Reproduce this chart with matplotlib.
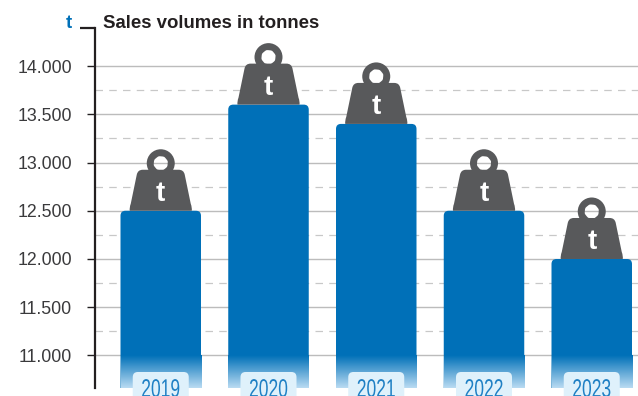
import numpy as np
import matplotlib
matplotlib.use('Agg')
import matplotlib.pyplot as plt
from matplotlib.path import Path
from matplotlib.patches import PathPatch, FancyBboxPatch
from matplotlib.patheffects import AbstractPathEffect
from matplotlib.transforms import Affine2D
from matplotlib.colors import LinearSegmentedColormap

years = ['2019', '2020', '2021', '2022', '2023']
sales = [12500, 13600, 13400, 12500, 12000]
major = [11000, 11500, 12000, 12500, 13000, 13500, 14000]
minor = [11250, 11750, 12250, 12750, 13250, 13750]
major_labels = ['11.000', '11.500', '12.000', '12.500', '13.000', '13.500', '14.000']

blue = '#0070b8'
grey = '#58595b'
ink = '#231f20'
W, H = 638, 396

plt.rcParams['font.family'] = ['Liberation Sans', 'DejaVu Sans']


class Narrow(AbstractPathEffect):
    # squeeze glyphs sideways around a fixed pixel column, no condensed font here
    def __init__(self, cx, factor):
        super().__init__()
        self.squeeze = Affine2D().translate(-cx, 0).scale(factor, 1).translate(cx, 0)

    def draw_path(self, renderer, gc, tpath, affine, rgbFace=None):
        renderer.draw_path(gc, tpath, affine + self.squeeze, rgbFace)


fig = plt.figure(figsize=(W / 100, H / 100), dpi=100)
# axes box in pixels: left 95, right 638, top 28, bottom 388
ax = fig.add_axes([95 / W, (H - 388) / H, (638 - 95) / W, (388 - 28) / H])
y_per_px = 500 / 48.2
x_per_px = 1 / 107.75
xlim = ((95 - 160.75) * x_per_px, (638 - 160.75) * x_per_px)
ylim = (11000 - (388 - 355.5) * y_per_px, 14000 + (66 - 28) * y_per_px)
ybottom = ylim[0]

for s in ['top', 'right', 'bottom']:
    ax.spines[s].set_visible(False)
ax.spines['left'].set_linewidth(1.6)
ax.spines['left'].set_color(ink)
ax.set_xticks([])
ax.set_yticks(major)
ax.set_yticklabels(major_labels, fontsize=12.8, color='#3a3a3c')
ax.tick_params(axis='y', length=6, width=1, color=ink, pad=10.5)

ax.hlines(major, *xlim, color='#bcbcbc', lw=1, zorder=1)
ax.hlines(minor, *xlim, color='#c8c8c8', lw=0.9, linestyles=(0, (6, 5)), zorder=1)

# cap at the top of the axis line
ax.plot([-15 / 543, 0], [1, 1], transform=ax.transAxes, color=ink, lw=1.6,
        clip_on=False, solid_capstyle='butt', zorder=5)
fig.text(72 / W, 1 - 23 / H, 't', color=blue, fontsize=13.4, fontweight='bold',
         ha='right', va='center')
fig.text(103 / W, 1 - 23 / H, 'Sales volumes in tonnes', color=ink, fontsize=13.4,
         fontweight='bold', ha='left', va='center')

half = 40.25 * x_per_px
rx = 5 * x_per_px
ry = 5 * y_per_px
fade = LinearSegmentedColormap.from_list('fade', [blue, '#b9dbf2'])
grad = np.linspace(0, 1, 64).reshape(-1, 1)

# weight body and ring in pixels, origin at the middle of the bar top, y up
body_parts = [(Path.MOVETO, (-31, 0)), (Path.CURVE3, (-31.5, 3)), (Path.CURVE3, (-30, 7)),
              (Path.LINETO, (-24, 36)), (Path.CURVE3, (-23, 41)), (Path.CURVE3, (-18, 41)),
              (Path.LINETO, (18, 41)), (Path.CURVE3, (23, 41)), (Path.CURVE3, (24, 36)),
              (Path.LINETO, (30, 7)), (Path.CURVE3, (31.5, 3)), (Path.CURVE3, (31, 0)),
              (Path.CLOSEPOLY, (-31, 0))]
codes, verts = zip(*body_parts)
body = Path(verts, codes)
outer = Path.circle((0, 47.5), 14)
inner = Path.circle((0, 47.5), 7)
ring = Path(np.concatenate([outer.vertices, inner.vertices[::-1]]),
            np.concatenate([outer.codes, inner.codes]))

ax.set_xlim(*xlim)
ax.set_ylim(*ylim)

for i, (yr, v) in enumerate(zip(years, sales)):
    xl, xr = i - half, i + half
    bar = Path([(xl, ybottom), (xl, v - ry), (xl, v), (xl + rx, v), (xr - rx, v),
                (xr, v), (xr, v - ry), (xr, ybottom), (xl, ybottom)],
               [Path.MOVETO, Path.LINETO, Path.CURVE3, Path.CURVE3, Path.LINETO,
                Path.CURVE3, Path.CURVE3, Path.LINETO, Path.CLOSEPOLY])
    ax.add_patch(PathPatch(bar, fc=blue, ec='none', zorder=2))
    # lower part of the bar fades out below 11.000
    ax.imshow(grad, extent=(xl, xr, ybottom, major[0]), cmap=fade, aspect='auto',
              origin='upper', zorder=3, interpolation='bilinear')

    # weight sitting on the bar
    cx, top = ax.transData.transform((i, v))
    off = Affine2D().translate(cx, top)
    ax.add_patch(PathPatch(body, fc=grey, ec='none', transform=off, zorder=4, clip_on=False))
    ax.add_patch(PathPatch(ring, fc=grey, ec='none', transform=off, zorder=4, clip_on=False))
    ax.annotate('t', (i, v), xytext=(0, 10), textcoords='offset pixels', color='white',
                fontsize=20, fontweight='bold', ha='center', va='baseline', zorder=5)

    # year chip, runs off the bottom edge of the figure
    fig.add_artist(FancyBboxPatch(((cx - 28) / W, -8 / H), 56 / W, 32 / H,
                                  boxstyle='round,pad=0,rounding_size=0.008',
                                  transform=fig.transFigure, fc='#dff1fb', ec='none',
                                  mutation_aspect=W / H, zorder=6))
    fig.text(cx / W, 1 - 397 / H, yr, color='#1f80c4', fontsize=18.5, ha='center',
             va='baseline', zorder=7, path_effects=[Narrow(cx, 0.68)])

ax.set_xlim(*xlim)
ax.set_ylim(*ylim)

fig.savefig('out.png', dpi=100)
